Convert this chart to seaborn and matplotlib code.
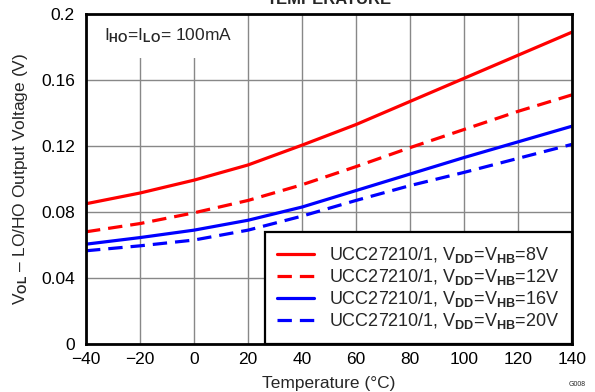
import numpy as np
import pandas as pd
import seaborn as sns
import matplotlib.pyplot as plt

# values
temps = [-40, -20, 0, 20, 40, 60, 80, 100, 120, 140]
vdd_8v = [0.085, 0.0915, 0.0993, 0.1085, 0.1205, 0.133, 0.147, 0.161, 0.175, 0.189]
vdd_12v = [0.068, 0.073, 0.0795, 0.087, 0.0965, 0.1075, 0.119, 0.130, 0.141, 0.151]
vdd_16v = [0.0605, 0.0645, 0.069, 0.075, 0.083, 0.093, 0.103, 0.113, 0.1225, 0.132]
vdd_20v = [0.0565, 0.0595, 0.063, 0.069, 0.0775, 0.087, 0.096, 0.104, 0.1125, 0.121]
supplies = ["8V", "12V", "16V", "20V"]
xticks = [-40, -20, 0, 20, 40, 60, 80, 100, 120, 140]
yticks = [0, 0.04, 0.08, 0.12, 0.16, 0.2]
ytick_labels = ["0", "0.04", "0.08", "0.12", "0.16", "0.2"]

sns.set_style("white")
plt.rcParams["font.family"] = ["Liberation Sans", "DejaVu Sans"]
plt.rcParams["mathtext.fontset"] = "custom"
plt.rcParams["mathtext.rm"] = "Liberation Sans"
plt.rcParams["mathtext.it"] = "Liberation Sans"
plt.rcParams["mathtext.bf"] = "Liberation Sans:bold"

fs = 12.5
fig = plt.figure(figsize=(5.95, 3.92), dpi=100)
ax = fig.add_axes([86 / 595, 48 / 392, 486 / 595, 330 / 392])

series = [vdd_8v, vdd_12v, vdd_16v, vdd_20v]
colors = ["#ff0000", "#ff0000", "#0000ff", "#0000ff"]
styles = ["-", (0, (4.5, 2.5)), "-", (0, (4.5, 2.5))]
for vals, sup, c, ls in zip(series, supplies, colors, styles):
    label = r"UCC27210/1, V$_{\mathbf{DD}}$=V$_{\mathbf{HB}}$=" + sup
    sns.lineplot(x=temps, y=vals, color=c, linestyle=ls, linewidth=2.3,
                 label=label, ax=ax)

ax.set_xlim(-40, 140)
ax.set_ylim(0, 0.2)
ax.set_xticks(xticks)
ax.set_yticks(yticks)
ax.set_yticklabels(ytick_labels)
ax.tick_params(length=0, labelsize=fs, colors="black")
ax.tick_params(axis="x", pad=6)
ax.tick_params(axis="y", pad=8)
ax.grid(True, color="#888888", linewidth=1)
for s in ax.spines.values():
    s.set_color("black")
    s.set_linewidth(2)
    s.set_zorder(5)

ax.set_xlabel("Temperature (°C)", fontsize=fs, labelpad=6)
ax.set_ylabel(r"V$_{\mathbf{OL}}$ – LO/HO Output Voltage (V)", fontsize=fs, labelpad=8)

# white box behind the test condition note
ax.text(0.037, 0.935, r"I$_{\mathbf{HO}}$=I$_{\mathbf{LO}}$= 100mA", transform=ax.transAxes,
        ha="left", va="center", fontsize=fs, zorder=4,
        bbox=dict(facecolor="white", edgecolor="none", boxstyle="square,pad=0.75"))

leg = ax.legend(loc="lower right", bbox_to_anchor=(1, 0), borderaxespad=0,
                prop={"size": 13}, handlelength=2.0, handletextpad=0.85, labelspacing=0.12,
                borderpad=0.7, fancybox=False, framealpha=1, edgecolor="black")
leg.get_frame().set_linewidth(1.6)
leg.set_zorder(6)

fig.text(329 / 595, 1 - 4 / 392, "TEMPERATURE", ha="center", va="baseline",
         fontsize=12, fontweight="bold")
fig.text(0.985, 0.01, "G008", ha="right", va="bottom", fontsize=5)

fig.savefig("out.png", dpi=100)
